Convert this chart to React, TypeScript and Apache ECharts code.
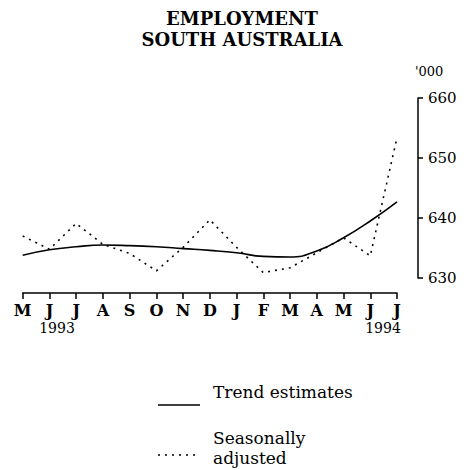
import React, { useEffect, useRef } from 'react';
import * as echarts from 'echarts';

const months = ['M', 'J', 'J', 'A', 'S', 'O', 'N', 'D', 'J', 'F', 'M', 'A', 'M', 'J', 'J'];
const yearLabels = ['1993', '1994'];
const trend = [633.8, 634.7, 635.2, 635.5, 635.4, 635.2, 634.9, 634.6, 634.2, 633.6, 633.5, 634.5, 636.7, 639.5, 642.7];
const seasonal = [637.0, 634.8, 639.1, 635.6, 634.1, 631.2, 635.1, 639.7, 635.1, 630.9, 631.7, 634.2, 636.7, 633.7, 653.4];
const titleLines = ['EMPLOYMENT', 'SOUTH AUSTRALIA'];
const unitLabel = "'000";
const legendNames = ['Trend estimates', 'Seasonally', 'adjusted'];

const FONT = 'DejaVu Serif';

export default function App() {
  const ref = useRef<HTMLDivElement>(null);
  useEffect(() => {
    const chart = echarts.init(ref.current!, null, { renderer: 'svg' });
    chart.setOption({
      animation: false,
      backgroundColor: '#fff',
      grid: { left: 22.7, right: 72, top: 98, bottom: 192 },
      xAxis: {
        type: 'category',
        data: months,
        boundaryGap: false,
        offset: 15,
        axisLine: { show: true, lineStyle: { color: '#000', width: 1.5 } },
        axisTick: { show: true, length: 6, interval: 0, lineStyle: { color: '#000', width: 1.5 } },
        axisLabel: { interval: 0, margin: 9, color: '#000', fontFamily: FONT, fontWeight: 'bold', fontSize: 16 },
        splitLine: { show: false },
      },
      yAxis: {
        type: 'value',
        position: 'right',
        min: 630,
        max: 660,
        interval: 10,
        offset: 21,
        axisLine: { show: true, lineStyle: { color: '#000', width: 1.5 } },
        axisTick: { show: true, length: 5, lineStyle: { color: '#000', width: 1.5 } },
        axisLabel: { margin: 10, color: '#000', fontFamily: FONT, fontSize: 15 },
        splitLine: { show: false },
      },
      series: [
        {
          name: legendNames[0],
          type: 'line',
          data: trend,
          smooth: true,
          symbol: 'none',
          lineStyle: { color: '#000', width: 1.6, type: 'solid' },
        },
        {
          name: 'Seasonally adjusted',
          type: 'line',
          data: seasonal,
          smooth: false,
          symbol: 'none',
          lineStyle: { color: '#000', width: 1.6, type: [2, 5] },
        },
      ],
      graphic: [
        { type: 'text', x: 242, y: 18, style: { text: titleLines[0], textAlign: 'center', textVerticalAlign: 'middle', font: `bold 18px "${FONT}"`, fill: '#000' } },
        { type: 'text', x: 242, y: 39, style: { text: titleLines[1], textAlign: 'center', textVerticalAlign: 'middle', font: `bold 18px "${FONT}"`, fill: '#000' } },
        { type: 'text', x: 415, y: 71, style: { text: unitLabel, textAlign: 'left', textVerticalAlign: 'middle', font: `13px "${FONT}"`, fill: '#000' } },
        { type: 'text', x: 57, y: 328, style: { text: yearLabels[0], textAlign: 'center', textVerticalAlign: 'middle', font: `14px "${FONT}"`, fill: '#000' } },
        { type: 'text', x: 383, y: 328, style: { text: yearLabels[1], textAlign: 'center', textVerticalAlign: 'middle', font: `14px "${FONT}"`, fill: '#000' } },
        { type: 'line', shape: { x1: 158, y1: 405, x2: 200, y2: 405 }, style: { stroke: '#000', lineWidth: 1.6 } },
        { type: 'text', x: 213, y: 392, style: { text: legendNames[0], textAlign: 'left', textVerticalAlign: 'middle', font: `17px "${FONT}"`, fill: '#000' } },
        { type: 'line', shape: { x1: 158, y1: 455, x2: 200, y2: 455 }, style: { stroke: '#000', lineWidth: 1.6, lineDash: [2, 5] } },
        { type: 'text', x: 213, y: 438, style: { text: legendNames[1], textAlign: 'left', textVerticalAlign: 'middle', font: `17px "${FONT}"`, fill: '#000' } },
        { type: 'text', x: 213, y: 458, style: { text: legendNames[2], textAlign: 'left', textVerticalAlign: 'middle', font: `17px "${FONT}"`, fill: '#000' } },
      ],
    });
    return () => chart.dispose();
  }, []);
  return <div ref={ref} style={{ position: 'absolute', left: 0, top: 0, width: 469, height: 470 }} />;
}
